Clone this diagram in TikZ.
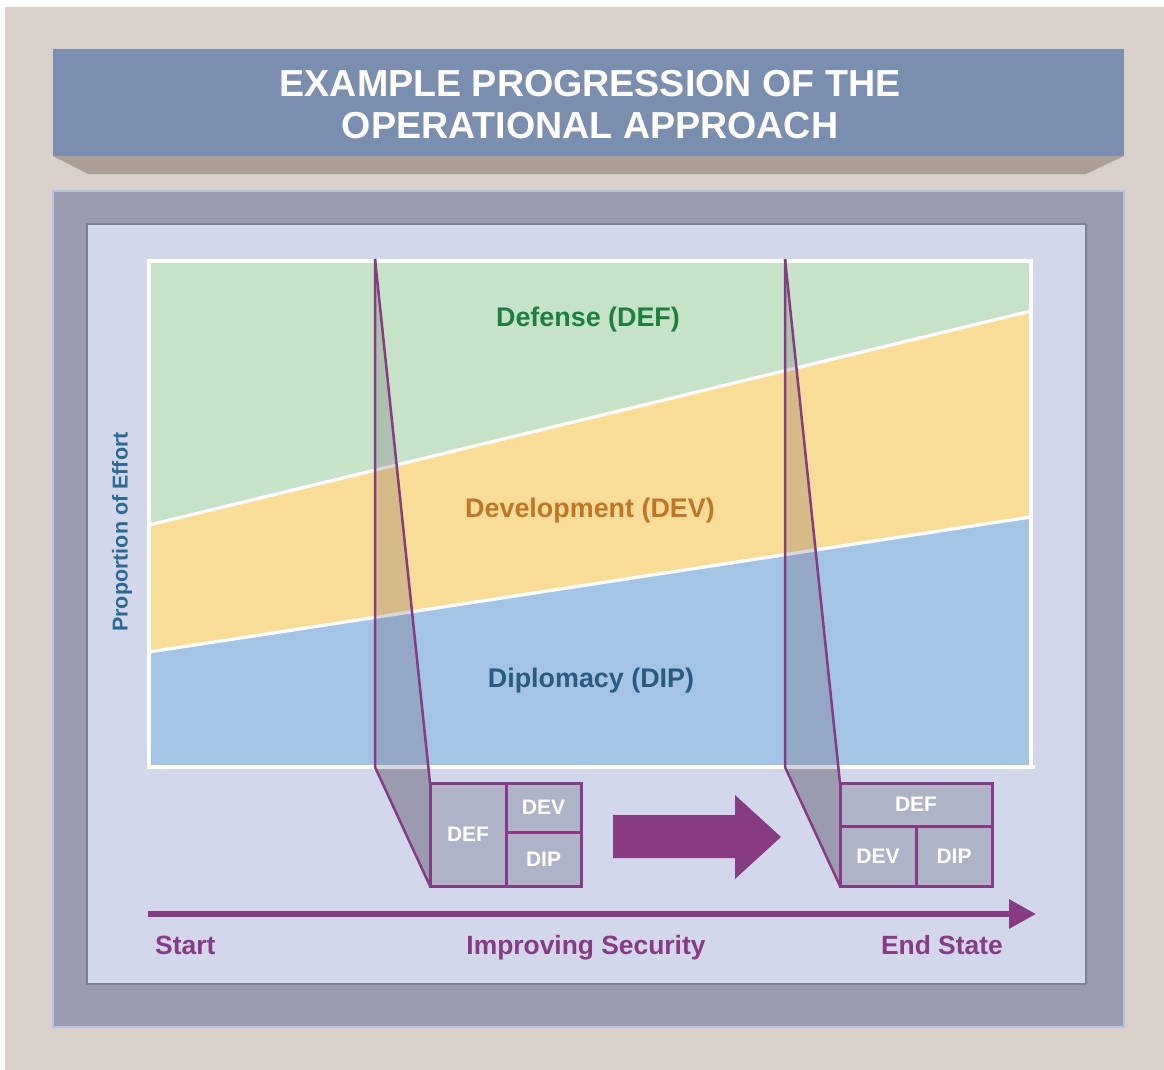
\documentclass[tikz,border=0pt]{standalone}
\usepackage{fontspec}
\setmainfont{Liberation Sans}
\usetikzlibrary{arrows.meta}
\definecolor{bgbeige}{HTML}{D9D0CA}
\definecolor{banner}{HTML}{7A8EB0}
\definecolor{bannershadow}{HTML}{AA9E96}
\definecolor{framegray}{HTML}{9A9AB0}
\definecolor{frameedge}{HTML}{B4C3E3}
\definecolor{panel}{HTML}{D2D7EC}
\definecolor{paneledge}{HTML}{7D8197}
\definecolor{defgreen}{HTML}{C6E3C8}
\definecolor{devyellow}{HTML}{F9DC96}
\definecolor{dipblue}{HTML}{A4C4E6}
\definecolor{purp}{HTML}{873B83}
\definecolor{celfill}{HTML}{AFB3C8}
\definecolor{wedgelow}{HTML}{9B9BAF}
\definecolor{wedgetint}{RGB}{90,70,90}
\definecolor{txtgreen}{HTML}{1E7F45}
\definecolor{txtorange}{HTML}{C0762A}
\definecolor{txtblue}{HTML}{2A5C80}
\definecolor{txtaxis}{HTML}{2C6A94}
\tikzset{
  titletext/.style={text=white, font=\fontsize{37.6}{40}\selectfont\bfseries, inner sep=0},
  bandtext/.style={font=\fontsize{26.9}{30}\selectfont\bfseries, inner sep=0},
  axistext/.style={text=purp, font=\fontsize{26.4}{30}\selectfont\bfseries, inner sep=0},
  cell/.style={draw=purp, fill=celfill, line width=3, inner sep=0, outer sep=0,
    text=white, font=\fontsize{21}{24}\selectfont\bfseries},
  wedgeline/.style={draw=purp, line width=2.5, line join=round},
  whiteline/.style={draw=white, line width=3.2}
}
\begin{document}
\begin{tikzpicture}[x=1pt,y=-1pt]
\useasboundingbox (0,0) rectangle (1164,1070);
\fill[white] (0,0) rectangle (1164,1070);
\fill[bgbeige] (5,7) rectangle (1164,1070);
% banner
\fill[bannershadow] (53,156) -- (1124,156) -- (1086,174) -- (88,174) -- cycle;
\fill[banner] (53,49) rectangle (1124,156);
\node[titletext, anchor=base] (title1) at (590,97) {EXAMPLE PROGRESSION OF THE};
\node[titletext, anchor=base] (title2) at (590,139) {OPERATIONAL APPROACH};
% frames
\filldraw[fill=framegray, draw=frameedge, line width=2] (53,191) rectangle (1124,1027);
\filldraw[fill=panel, draw=paneledge, line width=2.5] (87,224) rectangle (1086,984);
% chart
\coordinate (ctl) at (149,261);
\coordinate (cbr) at (1031,767);
\fill[defgreen] (ctl) rectangle (cbr);
\fill[devyellow] (149,525) -- (1031,311) -- (1031,767) -- (149,767) -- cycle;
\fill[dipblue] (149,652) -- (1031,517) -- (1031,767) -- (149,767) -- cycle;
\draw[whiteline] (149,525) -- (1031,311);
\draw[whiteline] (149,652) -- (1031,517);
\draw[white, line width=3.6] (ctl) rectangle (cbr);
\draw[white, line width=3.6] (1031,767) -- (1035,767);
\node[bandtext, text=txtgreen] (defl) at (588,320) {Defense (DEF)};
\node[bandtext, text=txtorange] (devl) at (590,511) {Development (DEV)};
\node[bandtext, text=txtblue] (dipl) at (591,681) {Diplomacy (DIP)};
\node[font=\fontsize{21.5}{24}\selectfont\bfseries, text=txtaxis, rotate=90, inner sep=0] (yaxis) at (122,532) {Proportion of Effort};
% wedge 1
\fill[wedgetint, fill opacity=0.22] (375,259) -- (428.5,769) -- (375,769) -- cycle;
\fill[wedgelow] (375,769) -- (428.5,769) -- (430,783) -- (430,886) -- cycle;
\draw[wedgeline] (375,259) -- (375,767) -- (430,886);
\draw[wedgeline] (375,259) -- (430,783);
% wedge 2
\fill[wedgetint, fill opacity=0.22] (785,259) -- (838.5,769) -- (785,769) -- cycle;
\fill[wedgelow] (785,769) -- (838.5,769) -- (840,783) -- (840,886) -- cycle;
\draw[wedgeline] (785,259) -- (785,767) -- (840,886);
\draw[wedgeline] (785,259) -- (840,783);
% box 1
\node[cell, minimum width=76, minimum height=103] (def1) at (468,834.5) {DEF};
\node[cell, minimum width=75, minimum height=49] (dev1) at (543.5,807.5) {DEV};
\node[cell, minimum width=75, minimum height=54] (dip1) at (543.5,859) {DIP};
% box 2
\node[cell, minimum width=152, minimum height=43] (def2) at (916,804.5) {DEF};
\node[cell, minimum width=76, minimum height=60] (dev2) at (878,856) {DEV};
\node[cell, minimum width=76, minimum height=60] (dip2) at (954,856) {DIP};
% progression arrow
\fill[purp] (613,815) -- (735,815) -- (735,795) -- (781,837) -- (735,879) -- (735,858) -- (613,858) -- cycle;
% axis arrow
\coordinate (axstart) at (148,914);
\coordinate (axend) at (1036,914);
\draw[purp, line width=6, -{Triangle[length=27,width=28]}] (axstart) -- (axend);
\node[axistext, anchor=base west] (startl) at (155,954) {Start};
\node[axistext, anchor=base] (midl) at (586,954) {Improving Security};
\node[axistext, anchor=base east] (endl) at (1003,954) {End State};
\end{tikzpicture}
\end{document}
